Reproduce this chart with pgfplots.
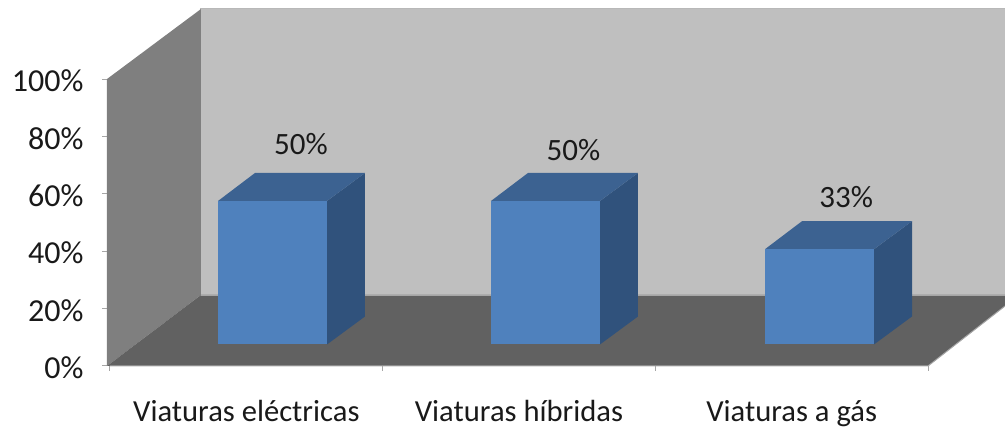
\documentclass[border=0pt]{standalone}
\usepackage{pgfplots}
\pgfplotsset{compat=1.18}
\usepackage{fontspec}
\setmainfont{Carlito}
\definecolor{wallL}{HTML}{7F7F7F}
\definecolor{wallB}{HTML}{BFBFBF}
\definecolor{floorC}{HTML}{616161}
\definecolor{barF}{HTML}{4F81BD}
\definecolor{barT}{HTML}{3C6291}
\definecolor{barR}{HTML}{30527C}
\definecolor{edgeC}{HTML}{A6A6A6}
\begin{document}
\begin{tikzpicture}[x=1pt,y=1pt]
\useasboundingbox (0,0) rectangle (1005,428);
\begin{axis}[
  at={(107pt,62pt)}, anchor=south west,
  scale only axis, width=898pt, height=357pt,
  xmin=-0.011, xmax=3.2824, ymin=0, ymax=124.4,
  axis line style={draw=none},
  clip=false,
  tick style={draw=edgeC, line width=1pt},
  tick align=outside,
  xtick={0,1,2,3}, xticklabels={,,,},
  extra x ticks={0.5,1.5,2.5},
  extra x tick labels={Viaturas eléctricas,Viaturas híbridas,Viaturas a gás},
  extra x tick style={major tick length=0pt, tick style={draw=none},
     xticklabel style={yshift=-31pt, font=\fontsize{30.6}{31}\selectfont}},
  ytick={0,20,40,60,80,100},
  yticklabels={0\%,20\%,40\%,60\%,80\%,100\%},
  xtick pos=bottom, ytick pos=left,
  major tick length=5pt,
  x tick style={shorten >=-4pt},
  yticklabel style={xshift=-15pt, yshift=-2pt, font=\fontsize{32}{33}\selectfont},
  ticklabel style={text=black!90},
]
% back wall, left wall, floor
\addplot[fill=wallB, draw=edgeC!80!white, line width=1pt] coordinates {(0.3337,24.74)(0.3337,124.4)(3.2824,124.4)(3.2824,24.74)} -- cycle;
\addplot[fill=wallL, draw=none] coordinates {(-0.011,0)(-0.011,100)(0.3337,124.4)(0.3337,24.74)} -- cycle;
\addplot[fill=floorC, draw=none] coordinates {(-0.011,0)(0.3337,24.74)(3.2824,24.74)(3.2824,20.9)(3,0)} -- cycle;
\addplot[draw=edgeC, line width=1pt] coordinates {(0,0)(3,0)(3.2824,20.9)};
\addplot[draw=edgeC, line width=0.8pt] coordinates {(0.3337,24.74)(3.2824,24.74)};
% bar 1 (50%)
\addplot[fill=barR, draw=none] coordinates {(0.7958,7.5)(0.7958,57.5)(0.9352,67.26)(0.9352,17.26)} -- cycle;
\addplot[fill=barT, draw=none] coordinates {(0.3961,57.5)(0.5318,67.26)(0.9352,67.26)(0.7958,57.5)} -- cycle;
\addplot[fill=barF, draw=none] coordinates {(0.3961,7.5)(0.3961,57.5)(0.7958,57.5)(0.7958,7.5)} -- cycle;
% bar 2 (50%)
\addplot[fill=barR, draw=none] coordinates {(1.7970,7.5)(1.7970,57.5)(1.9364,67.26)(1.9364,17.26)} -- cycle;
\addplot[fill=barT, draw=none] coordinates {(1.3973,57.5)(1.5330,67.26)(1.9364,67.26)(1.7970,57.5)} -- cycle;
\addplot[fill=barF, draw=none] coordinates {(1.3973,7.5)(1.3973,57.5)(1.7970,57.5)(1.7970,7.5)} -- cycle;
% bar 3 (33%)
\addplot[fill=barR, draw=none] coordinates {(2.8019,7.5)(2.8019,40.7)(2.9413,50.46)(2.9413,17.26)} -- cycle;
\addplot[fill=barT, draw=none] coordinates {(2.4022,40.7)(2.5379,50.46)(2.9413,50.46)(2.8019,40.7)} -- cycle;
\addplot[fill=barF, draw=none] coordinates {(2.4022,7.5)(2.4022,40.7)(2.8019,40.7)(2.8019,7.5)} -- cycle;
% data labels
\node[font=\fontsize{31}{32}\selectfont, text=black!90] at (axis cs:0.7,77.4) {50\%};
\node[font=\fontsize{31}{32}\selectfont, text=black!90] at (axis cs:1.7,75.3) {50\%};
\node[font=\fontsize{31}{32}\selectfont, text=black!90] at (axis cs:2.7,58.9) {33\%};
\end{axis}
\end{tikzpicture}
\end{document}
